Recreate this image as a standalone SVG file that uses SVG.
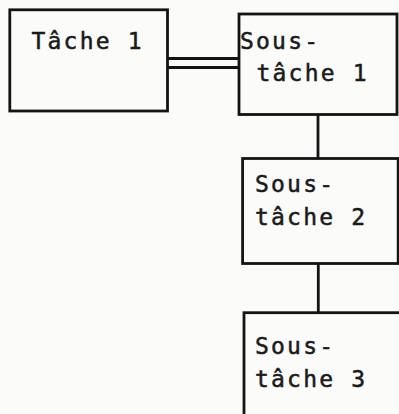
<svg xmlns="http://www.w3.org/2000/svg" width="399" height="414" viewBox="0 0 399 414">
<style>
.box{fill:none;stroke:#141414;stroke-width:2.8}
.ln{fill:none;stroke:#141414;stroke-width:2.8}
.t{font-family:"DejaVu Sans Mono","Liberation Mono",monospace;font-size:23px;letter-spacing:2.2px;fill:#1a1a1a;stroke:#1a1a1a;stroke-width:0.5}
</style>
<rect x="0" y="0" width="399" height="414" fill="#fbfbfa"/>
<g id="connectors">
<line class="ln" x1="167.5" y1="58.5" x2="239" y2="58.5"/>
<line class="ln" x1="167.5" y1="67.5" x2="239" y2="67.5"/>
<line class="ln" x1="318" y1="114.5" x2="318" y2="158.5"/>
<line class="ln" x1="318.3" y1="263.5" x2="318.3" y2="312.7"/>
</g>
<g id="tache1">
<rect class="box" x="9.8" y="9.8" width="157.7" height="101.2"/>
<text class="t" x="31.5" y="48.5">Tâche 1</text>
</g>
<g id="soustache1">
<rect class="box" x="239" y="14" width="158" height="100.5"/>
<text class="t" x="240" y="48.5">Sous-</text>
<text class="t" x="256.5" y="81">tâche 1</text>
</g>
<g id="soustache2">
<rect class="box" x="242.6" y="158.5" width="155.6" height="105"/>
<text class="t" x="255" y="192">Sous-</text>
<text class="t" x="255" y="225">tâche 2</text>
</g>
<g id="soustache3">
<rect class="box" x="244" y="312.7" width="170" height="120"/>
<text class="t" x="255" y="354">Sous-</text>
<text class="t" x="255" y="387">tâche 3</text>
</g>
</svg>
